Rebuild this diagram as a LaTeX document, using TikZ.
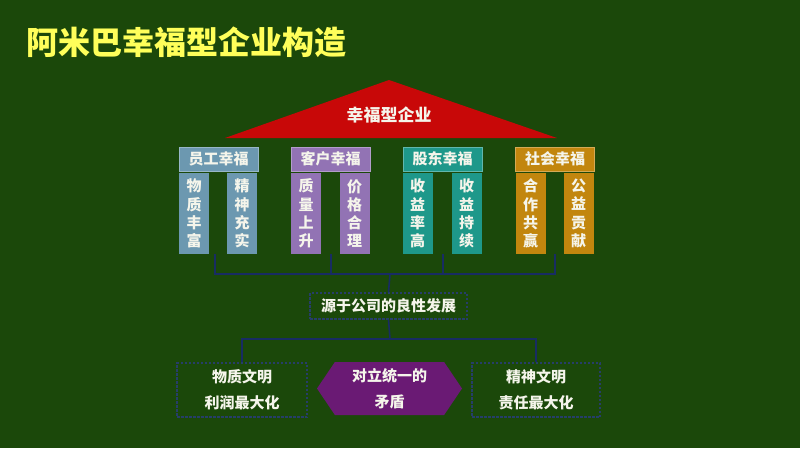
\documentclass[tikz,border=0pt]{standalone}
\usepackage{fontspec}
\setmainfont{Noto Sans CJK SC}
\usetikzlibrary{positioning,shapes.symbols}
\definecolor{bgGreen}{RGB}{27,72,10}
\definecolor{roofRed}{RGB}{200,8,8}
\definecolor{empBlue}{RGB}{108,152,176}
\definecolor{cusPurple}{RGB}{146,115,180}
\definecolor{shrTeal}{RGB}{30,152,138}
\definecolor{socGold}{RGB}{194,134,14}
\definecolor{hexPurple}{RGB}{106,26,116}
\definecolor{linkBlue}{RGB}{24,44,100}
\definecolor{dashBlue}{RGB}{38,62,105}
\definecolor{titleYellow}{RGB}{255,255,90}
\definecolor{txtWhite}{RGB}{245,245,235}

\begin{document}
\begin{tikzpicture}[x=1pt, y=-1pt,
    hdr/.style={font=\fontsize{15}{15}\selectfont\bfseries, text=txtWhite, minimum width=79pt, minimum height=24pt, inner sep=0pt},
    sub/.style={font=\fontsize{15}{18.3}\selectfont\bfseries, text=txtWhite, minimum width=30pt, minimum height=81pt, inner sep=0pt, align=center},
    dbox/.style={draw=dashBlue, dash pattern=on 2.5pt off 1.5pt, line width=1.2pt, font=\fontsize{15}{26}\selectfont\bfseries, text=txtWhite, inner sep=0pt, align=center},
    link/.style={draw=linkBlue, line width=1.6pt},
]
% background
\fill[bgGreen] (0,0) rectangle (800,448);

% Title
\node[anchor=west, font=\fontsize{32}{32}\selectfont\bfseries, text=titleYellow, inner sep=0pt] (title) at (26,42) {阿米巴幸福型企业构造};

% Roof
\fill[roofRed] (225,138) -- (389,80) -- (557,138) -- cycle;
\node[font=\fontsize{17}{17}\selectfont\bfseries, text=txtWhite] (roof) at (389,115) {幸福型企业};

% Headers
\node[hdr, fill=empBlue, draw=empBlue!70!white] (h1) at (218.5,159) {员工幸福};
\node[hdr, fill=cusPurple, draw=cusPurple!70!white] (h2) at (330.5,159) {客户幸福};
\node[hdr, fill=shrTeal, draw=shrTeal!70!white] (h3) at (442.5,159) {股东幸福};
\node[hdr, fill=socGold, draw=socGold!70!white] (h4) at (555,159) {社会幸福};

% Sub boxes
\node[sub, fill=empBlue] (a1) at (194,213.5) {物\\质\\丰\\富};
\node[sub, fill=empBlue] (a2) at (242,213.5) {精\\神\\充\\实};
\node[sub, fill=cusPurple] (b1) at (306,213.5) {质\\量\\上\\升};
\node[sub, fill=cusPurple] (b2) at (354.5,213.5) {价\\格\\合\\理};
\node[sub, fill=shrTeal] (c1) at (417.5,213.5) {收\\益\\率\\高};
\node[sub, fill=shrTeal] (c2) at (466.5,213.5) {收\\益\\持\\续};
\node[sub, fill=socGold] (d1) at (530.5,213.5) {合\\作\\共\\赢};
\node[sub, fill=socGold] (d2) at (578.5,213.5) {公\\益\\贡\\献};

% Middle
\node[dbox, minimum width=157pt, minimum height=26pt] (src) at (388.5,306) {源于公司的良性发展};

% Bottom row
\node[dbox, minimum width=130pt, minimum height=54pt] (lft) at (242,390) {物质文明\\利润最大化};
\node[dbox, minimum width=128pt, minimum height=54pt] (rgt) at (536,390) {精神文明\\责任最大化};
\node[signal, signal to=west and east, signal pointer angle=112, fill=hexPurple,
      minimum width=145pt, minimum height=53pt, inner sep=0pt,
      font=\fontsize{15}{26}\selectfont\bfseries, text=txtWhite, align=center] (con) at (389.5,388.5) {对立统一的\\矛盾};

% Connectors
\coordinate (j1) at (215,254);
\coordinate (j2) at (331,254);
\coordinate (j3) at (443,254);
\coordinate (j4) at (555,254);
\coordinate (bar) at (390,274);
\coordinate (bar2) at (390,339);
\draw[link] (j1) |- (j4 |- bar) -- (j4);
\draw[link] (j2) -- (j2 |- bar);
\draw[link] (j3) -- (j3 |- bar);
\draw[link] (bar) -- (src.north);
\draw[link] (src.south) -- (bar2);
\draw[link] (lft.north) -- (lft.north |- bar2) -- (rgt.north |- bar2) -- (rgt.north);
\end{tikzpicture}
\end{document}
